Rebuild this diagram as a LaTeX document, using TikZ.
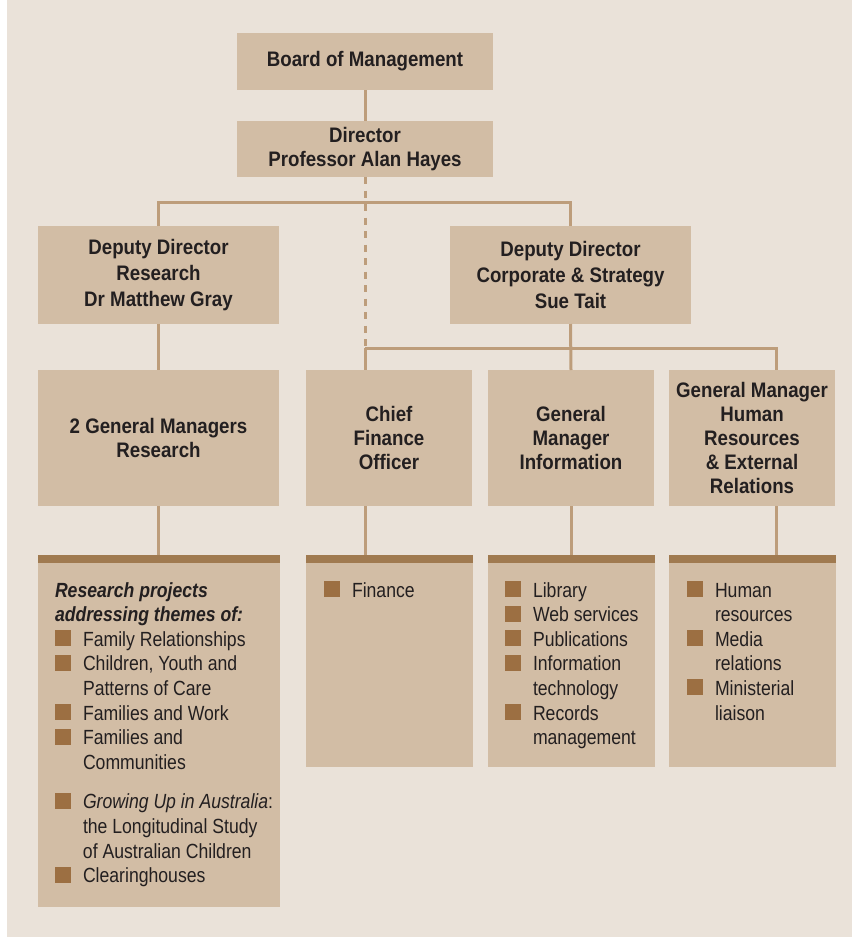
\documentclass[tikz,border=0pt]{standalone}
\usepackage{fontspec}
\setmainfont{Liberation Sans}[FakeStretch=0.86]
\newfontfamily\headfont{Liberation Sans}[FakeStretch=0.89]
\newfontfamily\bodyfont{Liberation Sans}[FakeStretch=0.86]
\definecolor{bgc}{RGB}{234,226,217}
\definecolor{boxc}{RGB}{210,189,165}
\definecolor{barc}{RGB}{160,122,80}
\definecolor{bulc}{RGB}{156,111,66}
\definecolor{linec}{RGB}{189,157,123}
\definecolor{txt}{RGB}{35,31,32}
\newcommand\itm[1]{\par\noindent\hangindent=28pt\hangafter=1\makebox[28pt][l]{\textcolor{bulc}{\rule{16pt}{16pt}}}#1\par}
\tikzset{
 conn/.style={draw=linec, line width=3pt},
 dashconn/.style={conn, dash pattern=on 7pt off 6.5pt},
 box/.style={fill=boxc, inner sep=0pt, outer sep=0pt, anchor=north west, align=center, text=txt,
   font=\headfont\bfseries\fontsize{21pt}{24pt}\selectfont},
 listbox/.style={fill=boxc, inner sep=0pt, outer sep=0pt, anchor=north west},
 listtext/.style={anchor=base west, inner sep=0pt, outer sep=0pt, text=txt,
   font=\bodyfont\fontsize{20.5pt}{24.6pt}\selectfont},
}
\begin{document}
\begin{tikzpicture}[x=1pt,y=-1pt]
\useasboundingbox (0,0) rectangle (852,937);
\fill[white] (0,0) rectangle (852,937);
\fill[bgc] (7,0) rectangle (852,937);
% top boxes
\node[box, minimum width=256pt, minimum height=57pt] (board) at (237,33) {Board of Management};
\node[box, minimum width=256pt, minimum height=56pt] (director) at (237,121) {Director\\Professor Alan Hayes};
\node[box, minimum width=241pt, minimum height=98pt, font=\headfont\bfseries\fontsize{21pt}{26pt}\selectfont] (ddr) at (38,226) {Deputy Director\\Research\\Dr Matthew Gray};
\node[box, minimum width=241pt, minimum height=98pt, font=\headfont\bfseries\fontsize{21pt}{26pt}\selectfont] (ddc) at (450,226) {Deputy Director\\Corporate \& Strategy\\Sue Tait};
% manager row
\node[box, minimum width=241pt, minimum height=136pt] (gmr) at (38,370) {2 General Managers\\Research};
\node[box, minimum width=166pt, minimum height=136pt] (cfo) at (306,370) {Chief\\Finance\\Officer};
\node[box, minimum width=166pt, minimum height=136pt] (gmi) at (488,370) {General\\Manager\\Information};
\node[box, minimum width=166pt, minimum height=136pt] (gmhr) at (669,370) {General Manager\\Human\\Resources\\\& External\\Relations};
% list boxes
\node[listbox, minimum width=242pt, minimum height=352pt] (resl) at (38,555) {};
\node[listbox, minimum width=167pt, minimum height=212pt] (finl) at (306,555) {};
\node[listbox, minimum width=167pt, minimum height=212pt] (infl) at (488,555) {};
\node[listbox, minimum width=167pt, minimum height=212pt] (hrl) at (669,555) {};
\foreach \b in {resl,finl,infl,hrl}{
  \fill[barc] (\b.north west) rectangle ([yshift=-8pt]\b.north east);
}
% list texts
\node[listtext] (rest) at (55,597) {\parbox[t]{228pt}{\raggedright
{\bfseries\itshape Research projects\newline addressing themes of:}\par
\itm{Family Relationships}
\itm{Children, Youth and\newline Patterns of Care}
\itm{Families and Work}
\itm{Families and\newline Communities}
\vspace{15pt}
\itm{\textit{Growing Up in Australia}:\newline the Longitudinal Study\newline of Australian Children}
\itm{Clearinghouses}}};
\node[listtext] (fint) at (324,597) {\parbox[t]{145pt}{\raggedright
\itm{Finance}}};
\node[listtext] (inft) at (505,597) {\parbox[t]{148pt}{\raggedright
\itm{Library}
\itm{Web services}
\itm{Publications}
\itm{Information\newline technology}
\itm{Records\newline management}}};
\node[listtext] (hrt) at (687,597) {\parbox[t]{148pt}{\raggedright
\itm{Human\newline resources}
\itm{Media\newline relations}
\itm{Ministerial\newline liaison}}};
% connectors
\coordinate (bus) at (365,348);
\coordinate (busr) at (776,348);
\draw[conn] (board.south) -- (director.north);
\draw[dashconn] (director.south) -- (bus);
\draw[conn] (ddr.north) -- ++(0,-24) -| (ddc.north);
\draw[conn] (ddr.south) -- (gmr.north);
\draw[conn] (ddc.south) -- (gmi.north);
\draw[conn] (bus) -- (busr) -- (busr |- gmhr.north);
\draw[conn] (bus) -- (bus |- cfo.north);
\draw[conn] (gmr.south) -- (gmr.south |- resl.north);
\draw[conn] (cfo.south -| bus) -- (finl.north -| bus);
\draw[conn] (gmi.south) -- (gmi.south |- infl.north);
\draw[conn] (gmhr.south -| busr) -- (hrl.north -| busr);
\end{tikzpicture}
\end{document}
